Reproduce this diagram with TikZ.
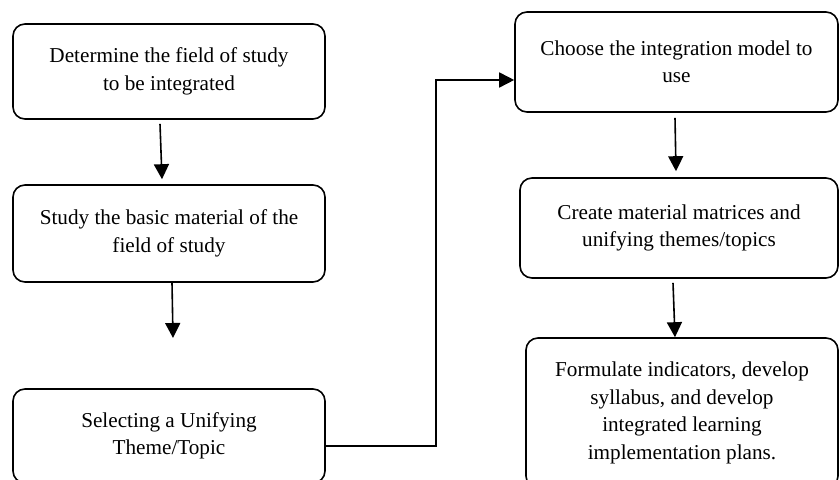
\documentclass[tikz,border=0pt]{standalone}
\usepackage{fontspec}
\setmainfont{Liberation Serif}
\usetikzlibrary{arrows.meta,positioning,calc}

\tikzset{
  stepbox/.style={draw, line width=0.8pt, rounded corners=6pt, align=center,
    font=\fontsize{10.6}{13.75}\selectfont, inner sep=0pt},
  flow/.style={line width=0.8pt, -{Triangle[length=7.5pt,width=7.5pt]}}
}

\begin{document}
\begin{tikzpicture}[x=1pt,y=1pt]
\useasboundingbox (0,0) rectangle (420,-240);
\clip (0,0) rectangle (420,-240);

% left column
\node[stepbox, minimum width=156pt, minimum height=47.5pt] (field) at (84.5,-35.75) {Determine the field of study\\to be integrated};
\node[stepbox, minimum width=156pt, minimum height=48.5pt] (basic) at (84.5,-116.75) {Study the basic material of the\\field of study};
\node[stepbox, minimum width=156pt, minimum height=47pt] (theme) at (84.5,-218) {Selecting a Unifying\\Theme/Topic};

% right column
\node[stepbox, minimum width=161.5pt, minimum height=50pt] (model) at (338.25,-31) {Choose the integration model to\\use};
\node[stepbox, minimum width=159pt, minimum height=50pt] (matrix) at (339.5,-114) {Create material matrices and\\unifying themes/topics};
\node[stepbox, minimum width=156pt, minimum height=75pt] (plans) at (341,-206.5) {Formulate indicators, develop\\syllabus, and develop\\integrated learning\\implementation plans.};

\coordinate (gap) at (86.5,-169);

\draw[flow] ([xshift=-4.5pt,yshift=-2pt]field.south) -- ([xshift=-3.5pt,yshift=2.5pt]basic.north);
\draw[flow] ([xshift=1.5pt]basic.south) -- (gap);
\draw[flow] ([yshift=-5pt]theme.east) -- ++(55,0) |- ([yshift=-9pt]model.west);
\draw[flow] ([xshift=-0.75pt,yshift=-2.5pt]model.south) -- ([xshift=-1.5pt,yshift=3pt]matrix.north);
\draw[flow] ([xshift=-3pt,yshift=-2pt]matrix.south) -- ([xshift=-3.5pt]plans.north);

\end{tikzpicture}
\end{document}
